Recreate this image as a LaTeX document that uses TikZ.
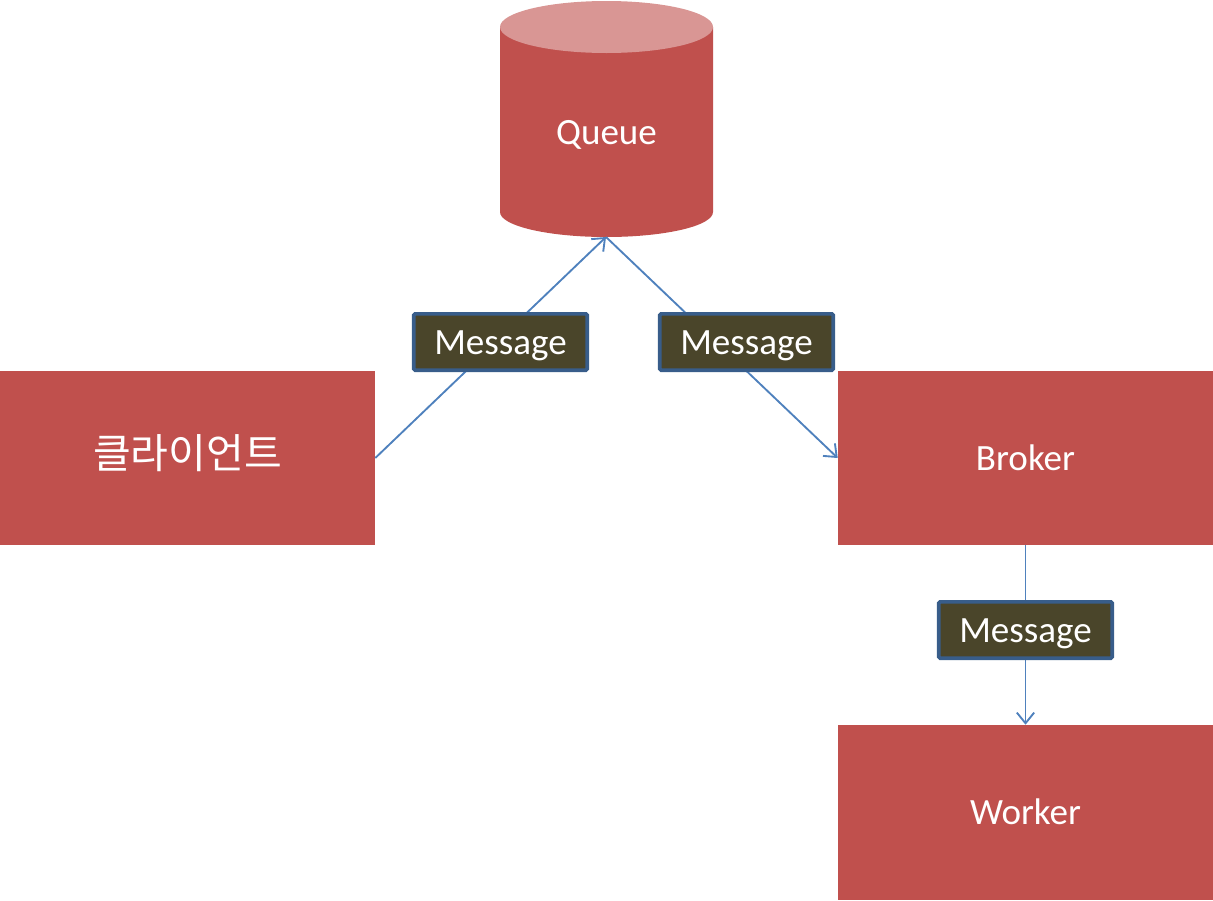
\documentclass[tikz,border=0pt]{standalone}
\usepackage{fontspec}
\setmainfont{Carlito}
\newfontfamily\krfont{Noto Sans CJK KR}
\usetikzlibrary{arrows.meta}
\definecolor{boxred}{HTML}{C0504D}
\definecolor{topred}{HTML}{D99694}
\definecolor{msgfill}{HTML}{4A452A}
\definecolor{msgborder}{HTML}{385D8A}
\definecolor{linkblue}{HTML}{4F81BD}
\tikzset{
  labeltext/.style={text=white, font=\fontsize{27.8pt}{33pt}\selectfont, text height=18pt, text depth=0pt},
  redbox/.style={labeltext, fill=boxred, draw=none, minimum width=281.25pt, minimum height=130.5pt, inner sep=0pt},
  msgbox/.style={labeltext, fill=msgfill, draw=msgborder, line width=2.8pt, rounded corners=1pt, minimum width=130pt, minimum height=42.2pt, inner sep=0pt},
  link/.style={draw=linkblue, line width=1.4pt, -{Straight Barb[length=8pt,width=13pt,line width=1.4pt]}},
}
\begin{document}
\begin{tikzpicture}[x=0.75pt,y=-0.75pt]
\useasboundingbox (0,0) rectangle (1213,900);
% Queue cylinder
\fill[boxred] (500,27) -- (500,212) arc[start angle=180, end angle=360, x radius=79.875pt, y radius=18.75pt] -- (713,27) -- cycle;
\fill[topred] (606.5,27) ellipse[x radius=79.875pt, y radius=19.5pt];
\node[labeltext] (queue) at (606.5,132) {Queue};
\coordinate (qbottom) at (606,237);
% boxes
\node[redbox, text height=16.2pt] (client) at (187.5,458) {\krfont\fontsize{30.8pt}{36pt}\selectfont 클라이언트};
\node[redbox] (broker) at (1025.5,458) {Broker};
\node[redbox, minimum height=131.25pt] (worker) at (1025.5,812.5) {Worker};
% connectors
\draw[link] (client.east) -- (qbottom);
\draw[link] (qbottom) -- (broker.west);
\draw[link] (broker.south) -- (worker.north);
% message labels
\node[msgbox] (m1) at (500.5,342) {Message};
\node[msgbox] (m2) at (746.5,342) {Message};
\node[msgbox] (m3) at (1025.5,630) {Message};
\end{tikzpicture}
\end{document}
